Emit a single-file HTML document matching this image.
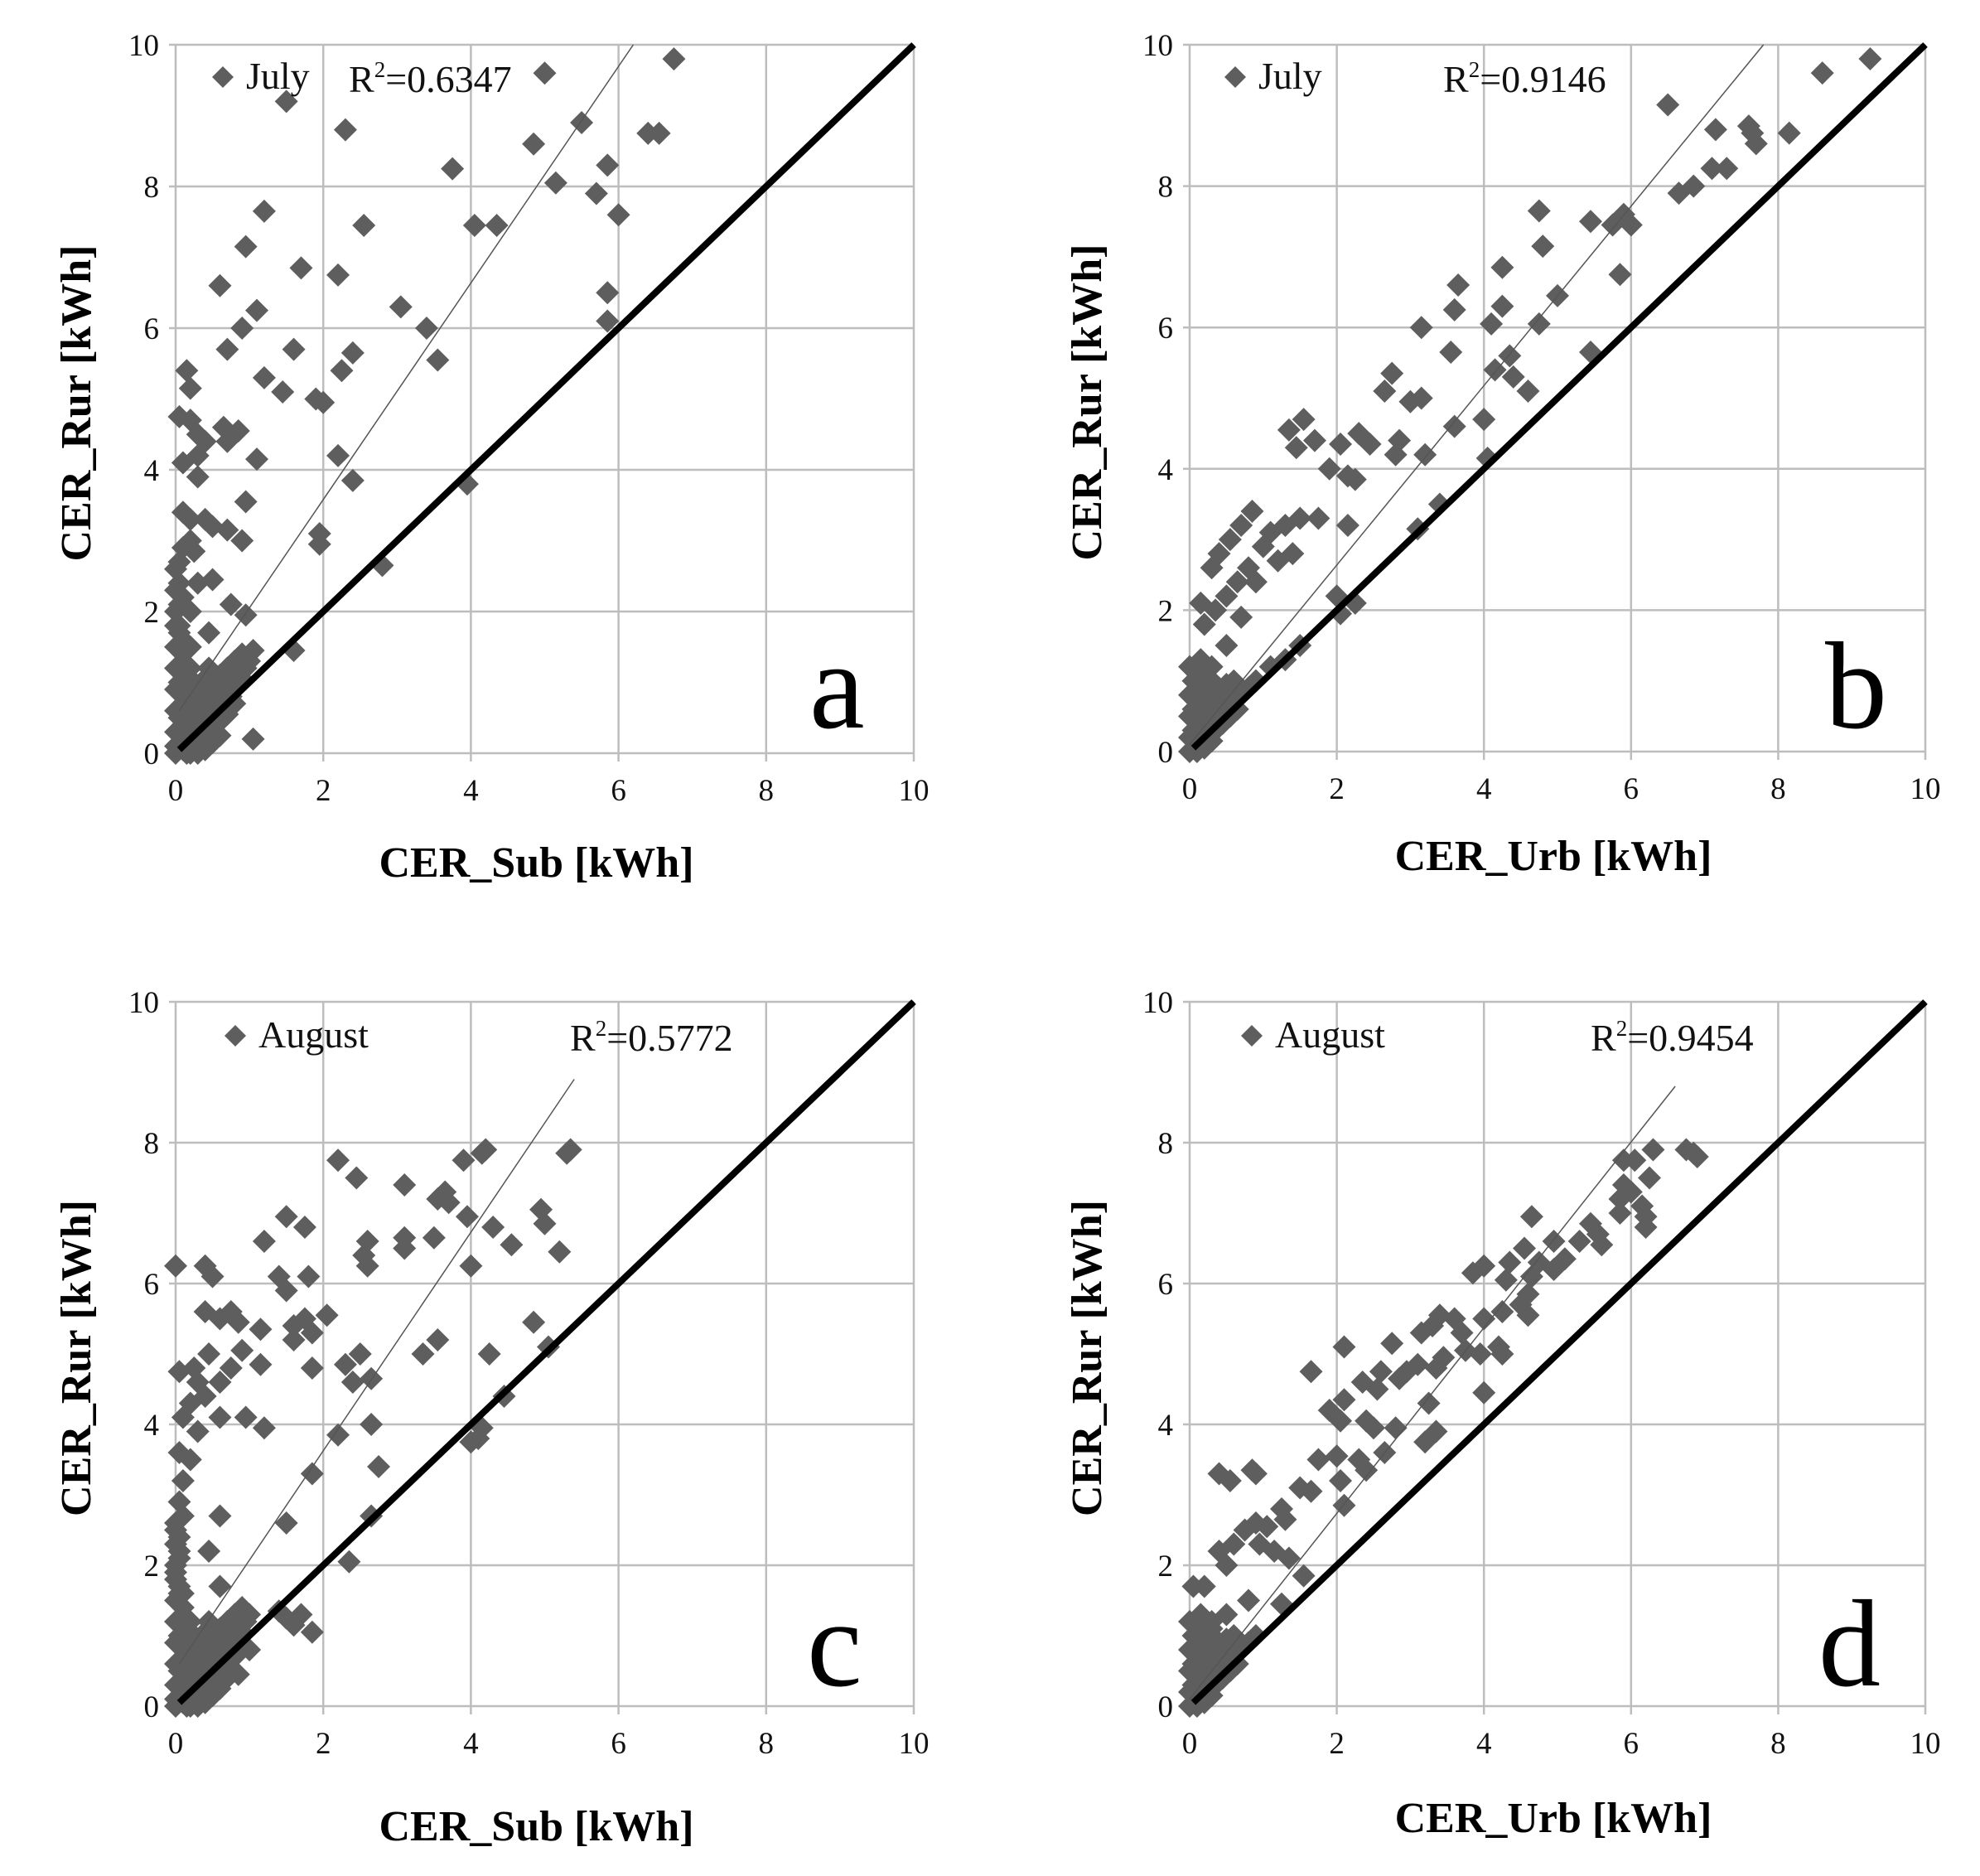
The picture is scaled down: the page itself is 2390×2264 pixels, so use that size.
<!DOCTYPE html>
<html><head><meta charset="utf-8">
<style>
html,body{margin:0;padding:0;background:#fff;}
svg{display:block;font-family:"Liberation Serif",serif;}
</style></head>
<body>
<svg id="chart" width="2390" height="2264" viewBox="0 0 2390 2264" xmlns="http://www.w3.org/2000/svg"></svg>
<script>
const tickLabels = ["0","2","4","6","8","10"];
const tickValues = [0,2,4,6,8,10];
const panelLetters = ["a","b","c","d"];
const legendLabels = ["July","July","August","August"];
const r2Labels = ["0.6347","0.9146","0.5772","0.9454"];
const xTitles = ["CER_Sub [kWh]","CER_Urb [kWh]","CER_Sub [kWh]","CER_Urb [kWh]"];
const yTitle = "CER_Rur [kWh]";
const trendA = [0.05,0.6,6.2,10];
const trendB = [0.0,0.1,7.8,10];
const trendC = [0.05,0.6,5.4,8.9];
const trendD = [0.0,0.1,6.6,8.8];

const clusterWide = [[0,0],[0.05,0.1],[0.1,0.05],[0.15,0.2],[0.2,0.1],[0.25,0.3],[0.3,0.15],[0.35,0.35],[0.4,0.25],[0.45,0.45],[0.5,0.35],[0.55,0.55],[0.6,0.45],[0.65,0.65],[0.7,0.55],[0.75,0.8],[0.8,0.7],[0.85,0.95],[0.9,1.05],[0.95,1.2],[1.0,1.3],[0.3,0.0],[0.4,0.05],[0.15,0.0],[0.5,0.15],[0.6,0.25],[0.0,0.3],[0.0,0.6],[0.0,0.9],[0.0,1.2],[0.0,1.5],[0.05,1.0],[0.1,0.7],[0.2,0.5],[0.3,0.6],[0.4,0.8],[0.5,1.0],[0.6,1.1],[0.7,1.2],[0.05,1.7],[0.0,2.0],[0.05,2.4],[0.0,2.6],[0.1,1.4],[0.15,0.9],[0.25,0.8],[0.35,1.0],[0.45,1.2],[0.8,1.3],[0.9,1.4],[0.2,1.2],[0.1,0.4],[0.7,0.95],[0.55,0.75],[0.05,0.5],[0.1,0.2],[0.2,0.3],[0.3,0.45],[0.4,0.6],[0.5,0.6],[0.6,0.8],[0.65,0.9],[0.75,1.05],[0.85,1.2],[0.0,1.8],[0.05,2.1],[0.0,2.3],[0.1,1.6],[0.15,1.1],[0.25,1.0],[0.35,0.2],[0.45,0.3],[0.55,0.4],[0.65,0.5],[0.75,0.65],[0.2,0.0],[0.25,0.1],[0.1,1.0],[0.15,0.5],[0.0,0.1]];
const clusterNarrow = [[0,0],[0.05,0.05],[0.1,0.15],[0.15,0.1],[0.2,0.25],[0.25,0.2],[0.3,0.35],[0.35,0.3],[0.4,0.45],[0.45,0.4],[0.5,0.55],[0.55,0.5],[0.6,0.7],[0.65,0.6],[0.7,0.8],[0.8,0.9],[0.9,1.0],[0.05,0.3],[0.1,0.5],[0.0,0.8],[0.05,1.0],[0.1,0.8],[0.2,0.6],[0.3,0.7],[0.4,0.9],[0.2,1.0],[0.3,1.2],[0.15,1.3],[0.0,0.5],[0.5,0.8],[0.6,1.0],[0.1,0.0],[0.2,0.05],[0.3,0.15],[0.25,0.45],[0.15,0.7],[0.35,0.55],[0.45,0.7],[0.0,0.2],[0.05,0.6],[0.1,1.1],[0.2,0.4],[0.25,0.85],[0.3,0.5],[0.35,0.95],[0.4,0.65],[0.5,0.95],[0.55,0.75],[0.15,0.35],[0.0,1.2]];

const pointsA = [[6.75,9.8],[5.0,9.6],[1.5,9.2],[2.3,8.8],[5.5,8.9],[4.85,8.6],[6.4,8.75],[6.55,8.75],[3.75,8.25],[5.85,8.3],[5.15,8.05],[5.7,7.9],[6.0,7.6],[4.05,7.45],[4.35,7.45],[2.55,7.45],[1.2,7.65],[0.95,7.15],[1.7,6.85],[2.2,6.75],[0.6,6.6],[5.85,6.5],[5.85,6.1],[3.05,6.3],[3.4,6.0],[1.1,6.25],[0.9,6.0],[0.7,5.7],[1.6,5.7],[2.4,5.65],[2.25,5.4],[3.55,5.55],[1.2,5.3],[1.45,5.1],[0.15,5.4],[0.2,5.15],[1.9,5.0],[2.0,4.95],[0.05,4.75],[0.2,4.7],[0.3,4.5],[0.65,4.6],[0.85,4.55],[0.7,4.4],[0.4,4.4],[0.3,4.2],[0.1,4.1],[1.1,4.15],[2.2,4.2],[0.3,3.9],[2.4,3.85],[3.95,3.8],[0.1,3.4],[0.2,3.3],[0.4,3.3],[0.5,3.2],[0.7,3.15],[0.9,3.0],[0.95,3.55],[1.95,3.1],[1.95,2.95],[2.8,2.65],[0.2,3.0],[0.1,2.9],[0.25,2.85],[0.05,2.7],[0.3,2.4],[0.5,2.45],[0.75,2.1],[0.95,1.95],[0.45,1.7],[0.2,2.0],[0.1,2.2],[0.05,1.8],[0.2,1.5],[1.6,1.45],[1.05,1.45],[1.05,0.2],[0.1,1.2]];
const pointsB = [[9.25,9.8],[8.6,9.6],[6.5,9.15],[7.6,8.85],[7.15,8.8],[7.65,8.75],[8.15,8.75],[7.7,8.6],[7.1,8.25],[7.3,8.25],[6.85,8.0],[6.65,7.9],[5.9,7.6],[5.75,7.45],[6.0,7.45],[5.45,7.5],[4.75,7.65],[4.8,7.15],[5.85,6.75],[4.25,6.85],[3.65,6.6],[3.6,6.25],[4.25,6.3],[5.0,6.45],[4.75,6.05],[4.1,6.05],[3.15,6.0],[5.45,5.65],[3.55,5.65],[4.35,5.6],[4.15,5.4],[4.4,5.3],[4.6,5.1],[2.75,5.35],[2.65,5.1],[3.0,4.95],[3.15,5.0],[2.3,4.5],[2.05,4.35],[2.45,4.35],[2.85,4.4],[2.8,4.2],[3.6,4.6],[4.0,4.7],[1.55,4.7],[1.35,4.55],[1.7,4.4],[1.45,4.3],[3.2,4.2],[4.05,4.15],[2.15,3.9],[2.25,3.85],[1.9,4.0],[1.75,3.3],[1.5,3.3],[1.3,3.2],[1.1,3.1],[0.85,3.4],[0.7,3.2],[0.55,3.0],[0.4,2.8],[0.3,2.6],[2.15,3.2],[3.4,3.5],[3.1,3.15],[1.0,2.9],[0.8,2.6],[0.65,2.4],[0.5,2.2],[0.35,2.0],[0.15,2.1],[0.2,1.8],[1.2,2.7],[1.4,2.8],[0.9,2.4],[0.7,1.9],[0.5,1.5],[2.0,2.2],[2.25,2.1],[2.05,1.95],[1.5,1.5],[1.3,1.3],[1.1,1.2],[0.9,1.0],[0.7,0.8]];
const pointsC = [[4.2,7.9],[4.15,7.85],[5.35,7.9],[5.3,7.85],[2.2,7.75],[3.9,7.75],[2.45,7.5],[3.1,7.4],[3.65,7.3],[3.55,7.2],[3.7,7.15],[4.95,7.05],[5.0,6.85],[1.5,6.95],[1.75,6.8],[3.95,6.95],[4.3,6.8],[1.2,6.6],[2.6,6.6],[3.1,6.65],[3.5,6.65],[3.1,6.5],[2.55,6.4],[4.55,6.55],[2.6,6.25],[5.2,6.45],[0.0,6.25],[0.4,6.25],[0.5,6.1],[1.4,6.1],[1.5,5.9],[1.8,6.1],[4.0,6.25],[0.4,5.6],[0.6,5.5],[0.75,5.6],[0.85,5.45],[1.15,5.35],[1.6,5.4],[1.75,5.5],[2.05,5.55],[1.6,5.2],[1.85,5.3],[3.35,5.0],[3.55,5.2],[4.85,5.45],[5.05,5.1],[4.25,5.0],[0.25,4.8],[0.45,5.0],[0.75,4.8],[0.9,5.05],[1.15,4.85],[1.85,4.8],[2.3,4.85],[2.5,5.0],[2.65,4.65],[2.4,4.6],[0.3,4.6],[0.6,4.6],[0.2,4.3],[0.4,4.4],[0.05,4.75],[0.1,4.1],[0.6,4.1],[0.95,4.1],[1.2,3.95],[0.3,3.9],[2.2,3.85],[2.65,4.0],[4.45,4.4],[4.0,3.75],[4.1,3.8],[4.15,3.95],[1.85,3.3],[2.75,3.4],[0.05,3.6],[0.1,3.2],[0.2,3.5],[0.05,2.9],[0.1,2.7],[0.6,2.7],[1.5,2.6],[2.65,2.7],[0.45,2.2],[2.35,2.05],[0.0,2.5],[0.05,2.2],[0.0,1.9],[0.05,1.6],[0.6,1.7],[1.5,1.25],[1.6,1.15],[1.7,1.3],[1.85,1.05],[1.4,1.35],[1.0,0.8],[0.85,0.45],[0.7,0.4]];
const pointsD = [[6.3,7.9],[6.75,7.9],[6.85,7.85],[6.9,7.8],[5.9,7.75],[6.05,7.75],[6.25,7.5],[5.9,7.4],[6.0,7.3],[5.85,7.2],[6.15,7.1],[6.2,6.95],[6.2,6.8],[5.85,7.0],[4.65,6.95],[5.45,6.85],[5.55,6.7],[5.6,6.55],[4.55,6.5],[4.35,6.3],[3.85,6.15],[4.0,6.25],[4.75,6.3],[4.95,6.6],[5.3,6.6],[5.1,6.35],[4.95,6.2],[4.65,6.1],[4.3,6.05],[4.6,5.85],[4.5,5.7],[4.25,5.6],[4.0,5.5],[3.6,5.5],[3.4,5.55],[3.3,5.4],[3.15,5.3],[3.7,5.3],[3.75,5.05],[3.95,5.0],[4.2,5.1],[4.6,5.55],[3.45,4.95],[3.35,4.8],[3.1,4.85],[2.95,4.75],[2.75,5.15],[2.6,4.75],[2.85,4.65],[2.55,4.5],[2.35,4.6],[2.1,4.35],[1.9,4.2],[2.1,5.1],[1.65,4.75],[2.05,4.05],[2.4,4.05],[2.5,3.95],[2.8,3.95],[3.25,4.3],[3.35,3.9],[3.2,3.75],[2.65,3.6],[2.3,3.5],[2.0,3.55],[1.75,3.5],[2.4,3.35],[2.05,3.2],[1.65,3.05],[2.1,2.85],[4.25,5.0],[4.0,4.45],[0.4,3.3],[0.55,3.2],[0.85,3.35],[0.9,3.3],[1.5,3.1],[1.25,2.8],[1.3,2.65],[1.05,2.55],[0.9,2.6],[0.75,2.5],[0.6,2.3],[0.95,2.3],[1.15,2.2],[1.35,2.1],[0.5,2.0],[0.4,2.2],[0.2,1.7],[0.05,1.7],[1.55,1.85],[1.25,1.45],[0.8,1.5],[0.5,1.3],[0.3,1.1],[0.1,1.2]];

const NS="http://www.w3.org/2000/svg";
const svg=document.getElementById('chart');
function mk(tag,attrs,parent){const e=document.createElementNS(NS,tag);for(const k in attrs)e.setAttribute(k,attrs[k]);(parent||svg).appendChild(e);return e;}

const panels=[
 {x0:212,x1:1103,y0:909,y1:54, pts:pointsA.concat(clusterWide), trend:trendA, legX:269,legY:93,r2X:421, letX:977,letY:878, xtY:1042, ytX:92},
 {x0:1436,x1:2324,y0:907,y1:54, pts:pointsB.concat(clusterNarrow), trend:trendB, legX:1491,legY:93,r2X:1742, letX:2203,letY:878, xtY:1034, ytX:1312},
 {x0:212,x1:1103,y0:2059,y1:1209, pts:pointsC.concat(clusterWide), trend:trendC, legX:284,legY:1250,r2X:688, letX:974,letY:2034, xtY:2205, ytX:92},
 {x0:1436,x1:2324,y0:2059,y1:1209, pts:pointsD.concat(clusterNarrow), trend:trendD, legX:1511,legY:1250,r2X:1920, letX:2195,letY:2034, xtY:2195, ytX:1312}
];

panels.forEach((p,i)=>{
 const g=mk('g',{});
 
 
 const sx=v=>p.x0+(p.x1-p.x0)*v/10;
 const sy=v=>p.y0+(p.y1-p.y0)*v/10;
 tickValues.forEach((t,k)=>{
  const h=mk('line',{x1:p.x0-8,x2:p.x1,y1:sy(t),y2:sy(t),stroke:'#bdbdbd','stroke-width':2.5},g);
  
  
  const v=mk('line',{x1:sx(t),x2:sx(t),y1:p.y1,y2:p.y0+10,stroke:'#bdbdbd','stroke-width':2.5},g);
  
  
  const yl=mk('text',{x:p.x0-20,y:sy(t)+13,'text-anchor':'end','font-size':37,fill:'#111'},g);
  yl.textContent=tickLabels[k];
  
  
  const xl=mk('text',{x:sx(t),y:p.y0+57,'text-anchor':'middle','font-size':37,fill:'#111'},g);
  xl.textContent=tickLabels[k];
  
  
 });
 p.pts.forEach(d=>{
  const cx=sx(d[0]),cy=sy(d[1]),r=14;
  const m=mk('polygon',{points:`${cx},${cy-r} ${cx+r},${cy} ${cx},${cy+r} ${cx-r},${cy}`,fill:'#5e5e5e'},g);
  
  
 });
 const tr=p.trend;
 const tl=mk('line',{x1:sx(tr[0]),y1:sy(tr[1]),x2:sx(tr[2]),y2:sy(tr[3]),stroke:'#555','stroke-width':1.5},g);
 
 
 const one=mk('line',{x1:sx(0.05),y1:sy(0.05),x2:sx(10),y2:sy(10),stroke:'#000','stroke-width':8},g);
 
 
 const lm=mk('polygon',{points:`${p.legX},${p.legY-13} ${p.legX+13},${p.legY} ${p.legX},${p.legY+13} ${p.legX-13},${p.legY}`,fill:'#5e5e5e'},g);
 
 
 const lt=mk('text',{x:p.legX+28,y:p.legY+14,'font-size':46,fill:'#111'},g);
 lt.textContent=legendLabels[i];
 
 
 const r2=mk('text',{x:p.r2X,y:p.legY+18,'font-size':46,fill:'#111'},g);
 r2.innerHTML='R<tspan font-size="27" dy="-18">2</tspan><tspan dy="18">=</tspan>'+r2Labels[i];
 
 
 const le=mk('text',{x:p.letX,y:p.letY,'font-size':150,fill:'#000'},g);
 le.textContent=panelLetters[i];
 
 
 const xt=mk('text',{x:(p.x0+p.x1)/2+(i%2?-5:-10),y:p.xtY+16,'text-anchor':'middle','font-size':52,'font-weight':'bold',fill:'#000'},g);
 xt.textContent=xTitles[i];
 
 
 const cy=(p.y0+p.y1)/2+5;
 const yt=mk('text',{x:p.ytX,y:cy,'text-anchor':'middle','font-size':52,'font-weight':'bold',fill:'#000',transform:`rotate(-90 ${p.ytX} ${cy})`,dy:17},g);
 yt.textContent=yTitle;
 
 
});
</script>
</body></html>
